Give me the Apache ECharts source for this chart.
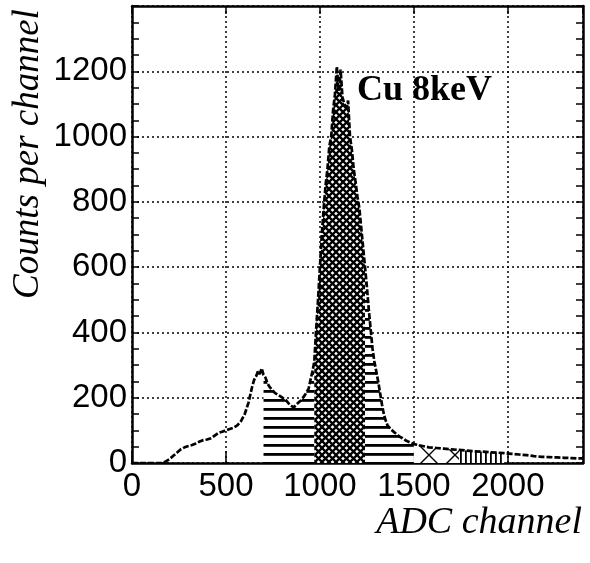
<!DOCTYPE html>
<html>
<head>
<meta charset="utf-8">
<script src="https://cdn.jsdelivr.net/npm/echarts@6/dist/echarts.min.js"></script>
<style>
html,body{margin:0;padding:0;background:#fff;}
#chart{width:590px;height:563px;}
</style>
</head>
<body>
<div id="chart"></div>
<script>
// ---- data ----
const channels = [0,40,80,120,160,180,200,220,240,260,280,300,320,340,360,380,400,420,440,460,480,500,520,540,560,580,600,620,640,650,660,670,680,690,700,710,720,730,740,760,780,800,820,840,860,880,900,920,940,950,960,970,980,990,1000,1010,1020,1030,1040,1050,1060,1070,1080,1090,1100,1110,1120,1130,1140,1150,1160,1170,1180,1190,1200,1210,1220,1230,1240,1250,1260,1270,1280,1290,1300,1310,1320,1330,1340,1350,1360,1380,1400,1420,1440,1460,1480,1500,1540,1580,1620,1660,1700,1740,1780,1820,1860,1900,1940,1980,2020,2060,2100,2140,2180,2220,2260,2300,2340,2380,2400];
const counts = [0,0,0,0,0,5,12,22,32,42,48,52,55,60,66,70,72,76,84,92,96,100,104,108,115,128,150,185,235,255,265,280,272,290,270,262,245,235,228,215,208,200,192,178,170,182,192,208,228,255,280,310,410,500,600,700,780,850,900,970,1000,1080,1130,1215,1140,1205,1120,1100,1090,1110,1000,960,900,860,815,780,720,660,600,540,470,410,350,310,280,250,215,180,150,130,115,102,92,82,76,68,63,58,53,48,46,44,42,40,38,36,35,33,32,30,28,26,24,21,19,18,17,16,15,14,14];
// shaded channel ranges
const hatchLeft = [700, 970];
const crossPeak = [970, 1240];
const hatchRight = [1240, 1500];
const xTail = [1500, 1740];
const barTail = [1740, 1980];
const xTicks = [0, 500, 1000, 1500, 2000];
const yTicks = [0, 200, 400, 600, 800, 1000, 1200];

function pairs(lo, hi) {
  const out = [];
  for (let i = 0; i < channels.length; i++) {
    if (channels[i] >= lo && channels[i] <= hi) out.push([channels[i], counts[i]]);
  }
  return out;
}
const allPts = pairs(-1, 1e9);

function makePattern(w, h, draw) {
  const c = document.createElement('canvas');
  c.width = w; c.height = h;
  const ctx = c.getContext('2d');
  ctx.fillStyle = '#fff';
  ctx.fillRect(0, 0, w, h);
  ctx.strokeStyle = '#000';
  ctx.fillStyle = '#000';
  draw(ctx, w, h);
  return { image: c, repeat: 'repeat' };
}
const horizPat = makePattern(8, 9, (ctx, w, h) => { ctx.fillRect(0, 3, w, 2.8); });
const crossPat = makePattern(7, 7, (ctx, w, h) => {
  ctx.lineWidth = 2.3;
  ctx.beginPath();
  ctx.moveTo(-1, -1); ctx.lineTo(w + 1, h + 1);
  ctx.moveTo(w + 1, -1); ctx.lineTo(-1, h + 1);
  ctx.stroke();
});
const xPat = makePattern(26, 26, (ctx, w, h) => {
  ctx.lineWidth = 1.4;
  ctx.beginPath();
  ctx.moveTo(0, 0); ctx.lineTo(w, h);
  ctx.moveTo(w, 0); ctx.lineTo(0, h);
  ctx.stroke();
});
const barPat = makePattern(5, 4, (ctx, w, h) => { ctx.fillRect(0, 0, 1.8, h); });

function areaSeries(range, pat) {
  return {
    type: 'line', data: pairs(range[0], range[1]), showSymbol: false, silent: true,
    lineStyle: { width: 0 }, areaStyle: { color: pat, opacity: 1 }, z: 1
  };
}

const chart = echarts.init(document.getElementById('chart'), null, { renderer: 'canvas' });
const labelFont = { fontFamily: 'Liberation Sans, Arial, sans-serif', fontSize: 33, color: '#000' };
const axisLine = { show: true, onZero: false, lineStyle: { color: '#000', width: 2.5 } };

chart.setOption({
  animation: false,
  backgroundColor: '#fff',
  grid: { left: 132, top: 6, width: 451, height: 457, containLabel: false },
  xAxis: [
    {
      type: 'value', position: 'bottom', min: 0, max: 2400, interval: 500,
      axisLine: axisLine,
      axisTick: { show: true, inside: true, length: 12, lineStyle: { color: '#000', width: 1.5 } },
      axisLabel: Object.assign({ margin: 7, showMaxLabel: false,
        formatter: v => (xTicks.indexOf(v) >= 0 ? String(v) : '') }, labelFont),
      splitLine: { show: true, lineStyle: { color: '#000', type: [2, 3], width: 1.5 } }
    },
    {
      type: 'value', position: 'top', min: 0, max: 2400, interval: 500,
      axisLine: axisLine,
      axisTick: { show: true, inside: true, length: 8, lineStyle: { color: '#000', width: 1.5 } },
      axisLabel: { show: false }, splitLine: { show: false }
    }
  ],
  yAxis: [
    {
      type: 'value', position: 'left', min: 0, max: 1400, interval: 200,
      axisLine: axisLine,
      axisTick: { show: true, inside: true, length: 7, lineStyle: { color: '#000', width: 1.5 } },
      minorTick: { show: true, splitNumber: 4, length: 7, lineStyle: { color: '#000', width: 1.5 } },
      axisLabel: Object.assign({ margin: 5, showMaxLabel: false,
        formatter: v => (yTicks.indexOf(v) >= 0 ? String(v) : '') }, labelFont),
      splitLine: { show: true, lineStyle: { color: '#000', type: [2, 3], width: 1.5 } }
    },
    {
      type: 'value', position: 'right', min: 0, max: 1400, interval: 200,
      axisLine: axisLine,
      axisTick: { show: true, inside: true, length: 7, lineStyle: { color: '#000', width: 1.5 } },
      minorTick: { show: true, splitNumber: 4, length: 7, lineStyle: { color: '#000', width: 1.5 } },
      axisLabel: { show: false }, splitLine: { show: false }
    }
  ],
  series: [
    areaSeries(hatchLeft, horizPat),
    areaSeries(crossPeak, crossPat),
    areaSeries(hatchRight, horizPat),
    areaSeries(xTail, xPat),
    areaSeries(barTail, barPat),
    {
      type: 'line', data: allPts, showSymbol: false, silent: true, z: 5,
      lineStyle: { color: '#000', width: 2.7, type: [6, 2] }
    }
  ],
  graphic: [
    {
      type: 'text', x: 28, y: 154, rotation: Math.PI / 2,
      style: { text: 'Counts per channel', font: 'italic 37px "Liberation Serif", "Times New Roman", serif',
        fill: '#000', align: 'center', verticalAlign: 'middle' }
    },
    {
      type: 'text', x: 582, y: 523,
      style: { text: 'ADC channel', font: 'italic 38px "Liberation Serif", "Times New Roman", serif',
        fill: '#000', align: 'right', verticalAlign: 'middle' }
    },
    {
      type: 'text', x: 357, y: 91, z: 10,
      style: { text: 'Cu 8keV', font: 'bold 36px "Liberation Serif", "Times New Roman", serif',
        fill: '#000', align: 'left', verticalAlign: 'middle' }
    }
  ]
});
</script>
</body>
</html>
